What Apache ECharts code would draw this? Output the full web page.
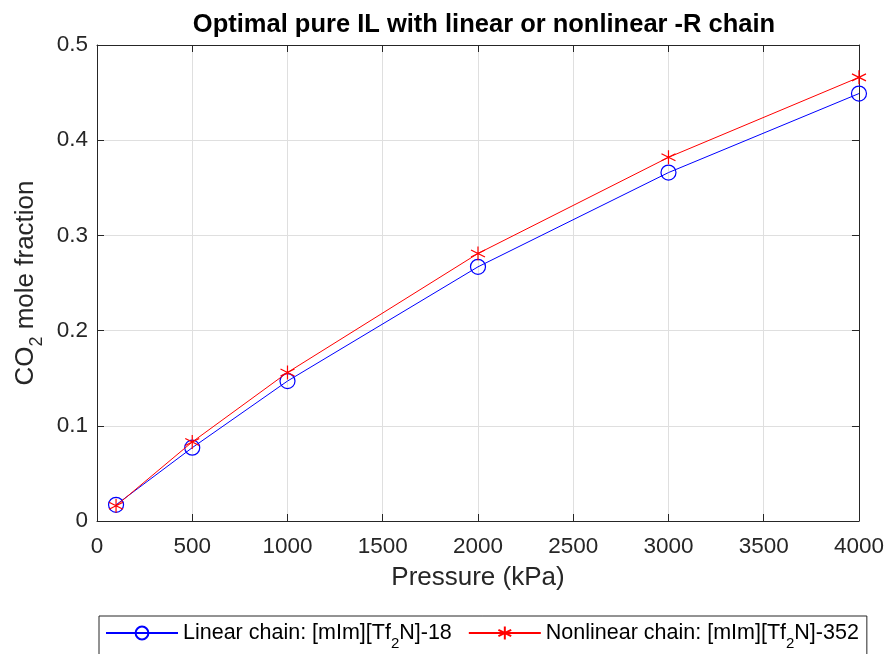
<!DOCTYPE html>
<html>
<head>
<meta charset="utf-8">
<script src="https://cdn.jsdelivr.net/npm/echarts@6/dist/echarts.min.js"></script>
<style>
  html, body { margin: 0; padding: 0; background: #fff; }
  #chart { width: 887px; height: 654px; }
</style>
</head>
<body>
<div id="chart"></div>
<script>
// Pressure points (kPa) and CO2 mole fractions for the two ionic liquids
const pressures = [100, 500, 1000, 2000, 3000, 4000];
const linearChain = [0.017, 0.077, 0.147, 0.267, 0.366, 0.449];
const nonlinearChain = [0.016, 0.083, 0.156, 0.281, 0.382, 0.466];
const xTicks = [0, 500, 1000, 1500, 2000, 2500, 3000, 3500, 4000];
const yTicks = [0, 0.1, 0.2, 0.3, 0.4, 0.5];

const FONT = 'Liberation Sans, Arial, Helvetica, sans-serif';
const INK = '#262626';
const asterisk = 'path://M0,-10L0,10M-8.66,-5L8.66,5M-8.66,5L8.66,-5';

const chart = echarts.init(document.getElementById('chart'));

// top and right axes only close the box and repeat the ticks
const frameAxis = {
  axisLine: { show: true, onZero: false, lineStyle: { color: INK, width: 1 } },
  axisTick: { show: true, inside: true, length: 7, lineStyle: { color: INK } },
  axisLabel: { show: false },
  splitLine: { show: false }
};

chart.setOption({
  animation: false,
  backgroundColor: '#fff',
  title: {
    text: 'Optimal pure IL with linear or nonlinear -R chain',
    left: 479, top: 7, textAlign: 'center',
    textStyle: { fontFamily: FONT, fontSize: 25.5, fontWeight: 'bold', color: '#000' }
  },
  grid: { left: 97, right: 27, top: 45, bottom: 133, containLabel: false },
  xAxis: [{
    type: 'value', min: 0, max: 4000, interval: 500,
    name: 'Pressure (kPa)', nameLocation: 'middle', nameGap: 44,
    nameTextStyle: { fontFamily: FONT, fontSize: 26, color: INK },
    axisLine: { show: true, onZero: false, lineStyle: { color: INK } },
    axisTick: { show: true, inside: true, length: 7, lineStyle: { color: INK } },
    axisLabel: { fontFamily: FONT, fontSize: 22.5, color: INK, margin: 14,
      formatter: v => xTicks.includes(v) ? String(v) : '' },
    splitLine: { show: true, lineStyle: { color: '#dfdfdf', width: 1 } }
  }, Object.assign({ type: 'value', min: 0, max: 4000, interval: 500, position: 'top' }, frameAxis)],
  yAxis: [{
    type: 'value', min: 0, max: 0.5, interval: 0.1,
    name: '{n|CO}{s|2}{n| mole fraction}', nameLocation: 'middle', nameGap: 58,
    nameTextStyle: { fontFamily: FONT, fontSize: 26, color: INK,
      rich: {
        n: { fontFamily: FONT, fontSize: 26, color: INK },
        s: { fontFamily: FONT, fontSize: 18, color: INK, verticalAlign: 'bottom', padding: [0, 0, -7, 0] }
      } },
    axisLine: { show: true, onZero: false, lineStyle: { color: INK } },
    axisTick: { show: true, inside: true, length: 7, lineStyle: { color: INK } },
    axisLabel: { fontFamily: FONT, fontSize: 22.5, color: INK, margin: 9,
      formatter: v => yTicks.some(t => Math.abs(t - v) < 1e-9) ? (v === 0 ? '0' : v.toFixed(1)) : '' },
    splitLine: { show: true, lineStyle: { color: '#dfdfdf', width: 1 } }
  }, Object.assign({ type: 'value', min: 0, max: 0.5, interval: 0.1, position: 'right' }, frameAxis)],
  legend: {
    top: 616, left: 99,
    padding: [6, 8, 30, 6],
    borderColor: INK, borderWidth: 1,
    itemWidth: 72, itemHeight: 16, itemGap: 16,
    textStyle: { fontFamily: FONT, fontSize: 21.5, color: '#000',
      rich: {
        n: { fontFamily: FONT, fontSize: 21.5, color: '#000' },
        s: { fontFamily: FONT, fontSize: 15, color: '#000', verticalAlign: 'bottom', padding: [0, 0, -7, 0] }
      } },
    formatter: name => name === 'linear'
      ? '{n|Linear chain: [mIm][Tf}{s|2}{n|N]-18}'
      : '{n|Nonlinear chain: [mIm][Tf}{s|2}{n|N]-352}',
    data: ['linear', 'nonlinear']
  },
  series: [{
    name: 'linear', type: 'line',
    data: pressures.map((p, i) => [p, linearChain[i]]),
    symbol: 'circle', symbolSize: 15,
    lineStyle: { color: '#0000ff', width: 1 },
    itemStyle: { color: 'rgba(0,0,0,0)', borderColor: '#0000ff', borderWidth: 1.2 },
    emphasis: { disabled: true },
    z: 2
  }, {
    name: 'nonlinear', type: 'line',
    data: pressures.map((p, i) => [p, nonlinearChain[i]]),
    symbol: asterisk, symbolSize: 14,
    lineStyle: { color: '#ff0000', width: 1 },
    itemStyle: { color: 'rgba(0,0,0,0)', borderColor: '#ff0000', borderWidth: 1.2 },
    emphasis: { disabled: true },
    z: 3
  }]
});
</script>
</body>
</html>
